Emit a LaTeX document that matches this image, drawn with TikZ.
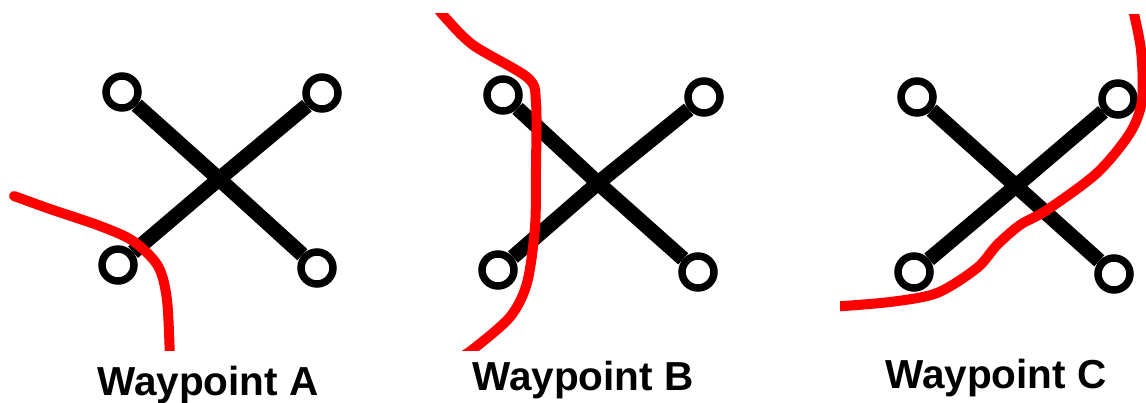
\documentclass[tikz,border=0pt]{standalone}
\usepackage{fontspec}
\setmainfont{Liberation Sans}
\usetikzlibrary{positioning}
\definecolor{cutred}{HTML}{FF0000}
\begin{document}
\begin{tikzpicture}[x=1pt,y=-1pt,
      wpt/.style={circle, draw=black, fill=white, line width=7.5pt, minimum size=32pt, inner sep=0pt},
      bar/.style={black, line width=15pt},
      cut/.style={cutred, line width=10pt, line cap=round, line join=round},
      wlabel/.style={font=\bfseries\fontsize{40.5}{44}\selectfont, text=black}
    ]
      \useasboundingbox (0,0) rectangle (1146,403);
      % waypoint A
      \coordinate (ca) at (219,179);
      \node[wpt] (a1) at (122,92) {};
      \node[wpt] (a2) at (322,93) {};
      \node[wpt] (a3) at (118,265) {};
      \node[wpt] (a4) at (317,268) {};
      \draw[bar] (a1) -- (ca);
      \draw[bar] (a2) -- (ca);
      \draw[bar] (a3) -- (ca);
      \draw[bar] (a4) -- (ca);
      \node[wlabel] (la) at (208,385) {Waypoint A};
      % waypoint B
      \coordinate (cb) at (598,183);
      \node[wpt] (b1) at (503,95) {};
      \node[wpt] (b2) at (704,97) {};
      \node[wpt] (b3) at (498,270) {};
      \node[wpt] (b4) at (698,272) {};
      \draw[bar] (b1) -- (cb);
      \draw[bar] (b2) -- (cb);
      \draw[bar] (b3) -- (cb);
      \draw[bar] (b4) -- (cb);
      \node[wlabel] (lb) at (583,380) {Waypoint B};
      % waypoint C
      \coordinate (cc) at (1016,186);
      \node[wpt] (c1) at (917,97) {};
      \node[wpt] (c2) at (1118,99) {};
      \node[wpt] (c3) at (914,272) {};
      \node[wpt] (c4) at (1114,274) {};
      \draw[bar] (c1) -- (cc);
      \draw[bar] (c2) -- (cc);
      \draw[bar] (c3) -- (cc);
      \draw[bar] (c4) -- (cc);
      \node[wlabel] (lc) at (996,378) {Waypoint C};
      % red strokes, cut off flat by the clip
      \begin{scope}
        \clip (0,14) rectangle (1146,350);
        \draw[cut] plot[smooth, tension=0.5] coordinates {(14,196) (50,209) (100,226) (133,241) (158,266) (167,300) (170,360)};
        \draw[cut] plot[smooth, tension=0.5] coordinates {(436,5) (443,15) (473,45) (528,78) (536,103) (536,167) (535,227) (527,283) (510,317) (472,350) (455,360)};
      \end{scope}
      \begin{scope}
        \clip (840,15) rectangle (1146,320);
        \draw[cut] plot[smooth, tension=0.5] coordinates {(830,307) (890,302) (937,293) (977,268) (997,245) (1020,225) (1047,210) (1097,173) (1130,133) (1142,100) (1141,50) (1132,5)};
      \end{scope}
    \end{tikzpicture}
\end{document}
